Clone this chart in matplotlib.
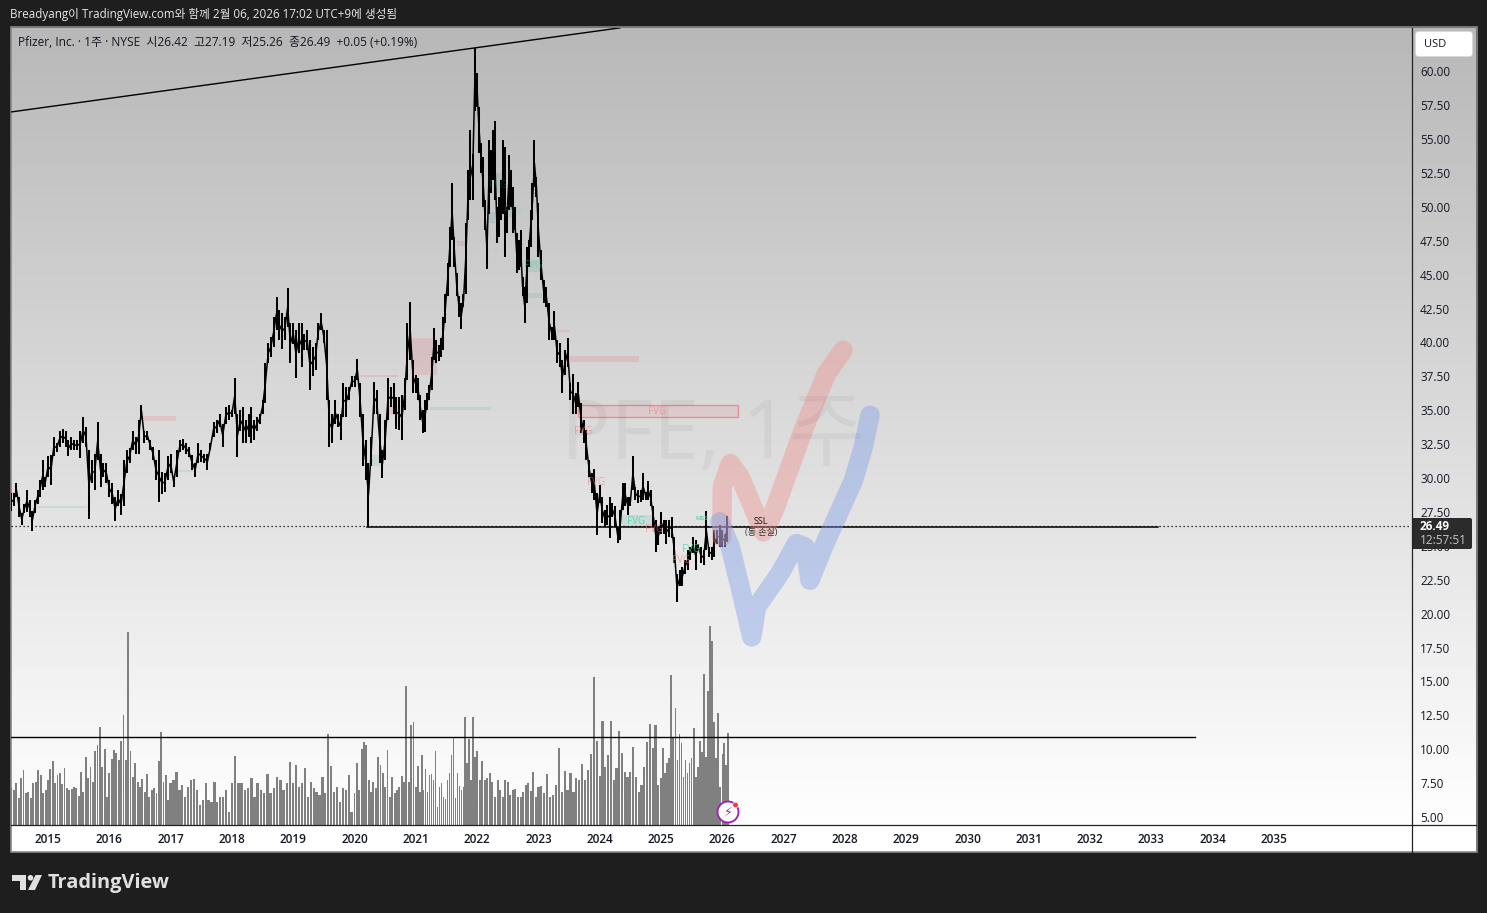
import numpy as np
import matplotlib
matplotlib.use('Agg')
import matplotlib.pyplot as plt
from matplotlib.patches import Rectangle, Circle, Polygon, FancyBboxPatch

plt.rcParams['font.family'] = ['Open Sans', 'Noto Sans CJK KR', 'DejaVu Sans']

W, H = 1487, 913

# 2주 단위 고가/저가, 연도별
hi_2014 = [28.9,28.9,29.6,28.6,27.4,28.1,29.1,28.4,27.6,28.4,29.1,29.85,31.3,30.1]
lo_2014 = [27.6,27.9,28.6,27.15,26.5,27.4,27.5,27.15,26.1,27.4,28.1,28.6,29.1,29.35]
hi_2015 = [31.6,31.7,33.05,32.55,33.5,33.65,33.5,32.8,33.05,32.8,32.8,33.5,34.5,33.8,32.05,31.3,31.8,34.15,31.8,31.1,31.1]
lo_2015 = [30.1,29.5,31.6,31.95,32.3,32.55,32.3,31.6,32.05,32.05,32.05,31.45,32.55,32.3,27.0,29.6,29.1,31.3,29.35,30.1,29.6]
hi_2016 = [29.85,29.6,28.6,29.1,28.85,31.3,32.05,32.2,33.5,33.05,34.3,35.4,33.5,33.5,32.8,32.3,31.3,32.05,30.45,30.35,31.6]
lo_2016 = [28.6,28.1,26.8,27.9,27.25,27.9,30.35,31.1,32.05,31.8,31.8,34.5,32.55,32.8,32.05,31.3,29.85,28.25,28.85,29.0,29.85]
hi_2017 = [31.8,30.1,32.05,32.8,32.9,32.55,32.3,31.7,31.1,32.55,32.05,31.8,31.8,32.55,34.15,34.3,34.75,34.0,35.25,35.4]
lo_2017 = [30.35,29.35,30.1,31.95,32.05,31.8,31.55,30.6,30.1,31.1,31.2,31.1,30.6,32.05,33.05,33.3,33.8,32.3,34.0,34.3]
hi_2018 = [35.0,37.35,34.75,35.0,35.25,34.3,34.75,35.25,34.3,34.5,34.75,35.75,38.45,39.95,40.4,41.9,43.35,42.4,42.15,41.9,44.0,41.4]
lo_2018 = [34.5,34.75,31.55,33.5,32.55,32.55,33.05,32.55,32.8,33.5,34.0,34.75,35.5,38.45,38.95,39.7,40.9,40.2,39.55,40.2,41.15,38.45]
hi_2019 = [41.4,40.9,41.4,41.4,40.65,40.9,40.2,39.7,39.95,41.4,42.15,40.9,40.9,35.75,34.75,35.75,34.75,34.75,37.0,36.75,36.75,37.5]
lo_2019 = [39.9,37.4,39.2,38.2,39.45,39.45,36.5,37.5,37.95,40.2,40.9,39.95,35.75,32.3,32.55,34.0,33.8,32.8,34.5,34.5,35.75,36.75]
hi_2020 = [37.5,38.8,37.0,34.75,32.8,31.1,33.05,37.1,36.5,34.75,32.05,34.3,37.35,36.75,37.0,36.0,36.0,36.1,37.35,41.4,43.0,38.7]
lo_2020 = [36.75,37.2,34.5,30.85,29.85,26.4,30.85,34.75,34.75,31.1,30.0,31.3,34.3,35.25,34.75,33.65,33.55,32.8,35.0,37.2,38.7,36.25]
hi_2021 = [37.6,37.35,36.1,35.0,35.75,36.25,36.85,38.95,41.05,40.2,39.8,40.3,41.9,43.6,45.85,48.55,51.75,47.8,45.1,43.4,42.9,43.6,48.8,52.7,55.65,53.9,61.7]
lo_2021 = [36.25,35.75,34.3,33.3,33.4,35.0,35.75,36.5,38.7,38.45,38.6,38.95,39.45,41.4,43.4,45.6,47.55,45.6,43.4,41.9,41.0,42.6,43.6,49.0,50.5,50.5,57.1]
hi_2022 = [59.85,57.4,54.7,53.7,50.5,48.3,54.9,54.2,55.65,56.3,50.0,50.75,52.0,54.9,54.4,50.0,53.8,52.7,51.5,50.0,48.05,47.55,48.3,44.85,44.1,47.05,47.55,49.75,51.75,54.9,52.2]
lo_2022 = [57.4,53.95,52.5,50.0,48.3,45.45,49.5,51.0,52.0,50.5,47.3,47.8,49.0,49.5,46.3,48.05,49.75,50.0,48.05,48.3,45.1,45.35,45.6,43.4,41.4,42.9,45.6,47.05,49.0,51.5,50.75]
hi_2023 = [50.25,46.8,44.6,44.1,42.9,41.15,42.3,40.2,39.95,38.7,39.45,40.3,37.0,37.7,36.25,37.1,35.5,34.3,33.55,31.3,30.35,30.7,28.9]
lo_2023 = [46.3,44.6,42.9,42.6,40.2,40.2,40.2,38.45,38.2,36.25,37.6,38.2,35.75,34.75,34.75,35.25,33.3,32.55,31.3,30.1,28.9,28.4,25.8]
hi_2024 = [29.5,28.6,27.65,28.0,28.6,28.15,27.9,26.4,27.65,29.6,29.65,28.6,28.6,31.6,29.35,29.1,29.1,30.35,29.0,29.75,29.1,27.9,26.9,26.4]
lo_2024 = [28.15,26.65,26.4,26.5,25.55,27.15,26.4,25.2,25.4,27.65,27.9,27.3,27.9,29.1,28.4,28.15,28.25,28.4,28.4,28.4,27.9,26.4,24.55,25.05]
hi_2025 = [27.5,26.9,26.9,26.9,27.15,25.65,22.95,23.2,23.45,23.95,24.7,24.9,25.65,25.4,25.15,24.9,24.7,27.6,24.9,24.9,26.15,26.15,26.5]
lo_2025 = [25.9,25.9,25.15,25.65,25.55,23.7,20.85,22.0,22.0,22.95,23.2,23.95,24.45,23.2,24.7,23.7,23.55,24.7,24.2,23.95,24.2,25.15,24.9]
hi_2026 = [26.15,25.9,27.19]
lo_2026 = [24.9,24.9,25.26]

# 거래량 (백만주, 대략)
vol_2014 = [154,147,175,112,196,231,133,140,112,175,182,231,210,133,147]
vol_2015 = [189,235,269,175,210,220,173,238,157,147,151,158,154,122,223,140,287,196,245,182,311,336,413,245,318,119]
vol_2016 = [217,277,315,301,273,354,462,273,812,311,203,259,182,161,192,140,214,119,147,154,133,269,392,179,210,105]
vol_2017 = [175,189,221,147,168,119,161,189,192,147,84,105,178,105,98,179,98,119,116,147,56]
vol_2018 = [175,290,175,175,147,154,196,119,175,147,133,214,133,154,203,189,147,175,265]
vol_2019 = [175,252,161,175,238,119,179,154,140,126,203,133,382,248,140,161,98,154,147,210,56]
vol_2020 = [133,259,147,318,347,336,189,140,179,154,287,252,217,161,315,119,203,133,147,161,206,182,584,179,420,434]
vol_2021 = [161,248,140,294,147,234,140,210,214,189,311,77,161,175,119,109,189,217,294,371,112,217,164,147,161,455,259,360,189,455,287]
vol_2022 = [312,189,269,189,196,217,182,119,189,147,119,189,182,126,147,151,119,119,140,168,175,144,221,119]
vol_2023 = [161,164,133,214,119,126,168,322,140,227,147,217,140,196,189,256,189,231,298,622,353]
vol_2024 = [206,437,245,294,436,189,238,395,304,224,203,224,329,203,140,168,245,350,424,322,420,168]
vol_2025 = [196,322,217,259,280,630,371,490,273,381,343,203,273,217,259,280,406,203,245,354,308,634,287,564,836,773,434,280,469,161]
vol_2026 = [298,343,252,385]

seg_years = [2014, 2015, 2016, 2017, 2018, 2019, 2020, 2021, 2022, 2023, 2024, 2025, 2026]
seg_start = [2014.40, 2015, 2016, 2017, 2018, 2019, 2020, 2021, 2022, 2023, 2024, 2025, 2026]
seg_end = [2015, 2016, 2017, 2018, 2019, 2020, 2021, 2022, 2023, 2024, 2025, 2026, 2026.12]
highs = [hi_2014, hi_2015, hi_2016, hi_2017, hi_2018, hi_2019, hi_2020, hi_2021, hi_2022, hi_2023, hi_2024, hi_2025, hi_2026]
lows = [lo_2014, lo_2015, lo_2016, lo_2017, lo_2018, lo_2019, lo_2020, lo_2021, lo_2022, lo_2023, lo_2024, lo_2025, lo_2026]
vols = [vol_2014, vol_2015, vol_2016, vol_2017, vol_2018, vol_2019, vol_2020, vol_2021, vol_2022, vol_2023, vol_2024, vol_2025, vol_2026]

price_ticks = [5 + 2.5 * i for i in range(23)]
year_ticks = list(range(2015, 2036))
last_price = 26.49
ssl_price = 26.42
vol_level = 370

# 붓 자국 (연도, 가격)
red_x = [2025.99, 2026.0, 2026.13, 2026.29, 2026.67, 2026.83, 2027.32, 2027.70, 2027.97]
red_p = [25.66, 29.35, 31.07, 30.08, 26.03, 27.4, 33.53, 37.7, 39.43]
blue_x = [2025.96, 2026.13, 2026.29, 2026.48, 2026.56, 2026.94, 2027.21, 2027.35, 2027.43, 2027.65, 2028.14, 2028.30, 2028.41]
blue_p = [26.77, 24.92, 21.97, 18.28, 20.5, 22.96, 25.17, 24.92, 22.46, 24.92, 29.84, 32.3, 34.63]

# FVG 박스 (x0, x1, p0, p1)
red_boxes = [(2023.48, 2024.64, 38.55, 39.0), (2020.93, 2021.34, 37.6, 40.32), (2020.09, 2020.71, 37.45, 37.6),
             (2020.56, 2020.74, 34.65, 35.3), (2023.3, 2023.52, 40.77, 40.9), (2016.55, 2017.09, 34.2, 34.57),
             (2014.4, 2014.48, 28.75, 29.0), (2016.96, 2017.04, 30.15, 30.37), (2018.33, 2018.41, 34.5, 34.57),
             (2019.14, 2019.24, 40.4, 40.55), (2021.67, 2021.84, 47.1, 47.48)]
green_boxes = [(2021.23, 2022.22, 35.0, 35.24), (2020.25, 2020.46, 30.9, 31.7), (2014.82, 2015.64, 27.82, 27.93),
               (2017.1, 2017.37, 30.45, 30.6), (2022.16, 2022.29, 48.8, 49.6), (2022.32, 2022.42, 51.0, 52.5),
               (2022.49, 2022.62, 49.25, 50.35), (2022.78, 2023.03, 45.2, 46.1), (2022.81, 2023.06, 43.3, 43.65),
               (2024.33, 2024.87, 26.4, 27.27)]
red_labels = [(2024.93, 34.94), (2023.73, 33.4), (2023.94, 29.7), (2024.89, 26.17), (2025.33, 23.95)]
green_labels = [(2024.59, 26.83, 0.75), (2025.49, 24.76, 0.75), (2022.91, 45.7, 0.45), (2022.34, 51.6, 0.22), (2022.59, 49.76, 0.22)]


def px_rect(x0, y0, x1, y1):
    return [x0 / W, 1 - y1 / H, (x1 - x0) / W, (y1 - y0) / H]


fig = plt.figure(figsize=(W / 100, H / 100), dpi=100, facecolor='#1e1e1e')

# 배경
bg = fig.add_axes([0, 0, 1, 1], zorder=0)
bg.axis('off')
grad = np.linspace(0, 1, 256).reshape(-1, 1)
bg.imshow(grad, cmap=matplotlib.colors.LinearSegmentedColormap.from_list('g', ['#b8b8b8', '#ffffff']),
          extent=[11, 1476, 826, 28], aspect='auto')
bg.set_xlim(0, W)
bg.set_ylim(H, 0)
bg.add_patch(Rectangle((11, 825), 1465, 27, fc='white', ec='none'))
bg.add_patch(Rectangle((10.5, 27.5), 1466, 825, fc='none', ec='#8a8a8a', lw=1.2))

bg.text(10, 14, 'Breadyang이 TradingView.com와 함께 2월 06, 2026 17:02 UTC+9에 생성됨',
        color='#e8e8e8', fontsize=8.4, va='center', ha='left')
bg.text(48, 883, 'TradingView', color='#e0e0e0', fontsize=14.4, va='center', ha='left', fontweight='bold')
bg.add_patch(Polygon([(12, 875), (26, 875), (26, 890), (19.5, 890), (19.5, 881), (12, 881)], fc='#e0e0e0', ec='none'))
bg.add_patch(Circle((30.5, 877.8), 2.8, fc='#e0e0e0', ec='none'))
bg.add_patch(Polygon([(35.5, 875), (42, 875), (35, 890), (28, 890)], fc='#e0e0e0', ec='none'))

# 메인
ax = fig.add_axes(px_rect(11, 28, 1411, 825), zorder=1, facecolor='none')
ax_vol = ax.twinx()
ax.set_xlim(2014.396, 2037.235)
ax.set_ylim(4.41, 63.19)
for s in ax.spines.values():
    s.set_visible(False)

ax.text(2025.85, 33.0, 'PFE, 1주', fontsize=59, color='black', alpha=0.045, ha='center', va='center',
        family=['Noto Sans', 'Noto Sans CJK KR'])

for x0, x1, p0, p1 in red_boxes:
    ax.add_patch(Rectangle((x0, p0), x1 - x0, p1 - p0, fc='#f23645', ec='none', alpha=0.13))
for x0, x1, p0, p1 in green_boxes:
    ax.add_patch(Rectangle((x0, p0), x1 - x0, p1 - p0, fc='#089981', ec='none', alpha=0.11))
ax.add_patch(Rectangle((2023.65, 34.52), 2.6, 0.86, fc=(0.95, 0.21, 0.27, 0.09), ec=(0.95, 0.21, 0.27, 0.42), lw=1))
for x, p in red_labels:
    ax.text(x, p, 'FVG', color='#f77c80', alpha=0.6, fontsize=7, ha='center', va='center')
for x, p, a in green_labels:
    ax.text(x, p, 'FVG', color='#42d6a4', alpha=a, fontsize=7, ha='center', va='center')
ax.text(2025.67, 26.98, 'MSS', color='#42d6a4', alpha=0.8, fontsize=4.5, ha='center', va='center', fontweight='bold')

all_x, all_mid = [], []
for i, y in enumerate(seg_years):
    xs = np.linspace(seg_start[i], seg_end[i], len(highs[i]), endpoint=False)
    ax.vlines(xs, lows[i], highs[i], color='black', lw=1.45)
    all_x.extend(xs)
    all_mid.extend((np.array(highs[i]) + np.array(lows[i])) / 2)
# 봉 사이를 이어서 빽빽하게 보이도록
ax.plot(all_x, all_mid, color='black', lw=1.1)

ax.plot([2014.4, 2024.33], [57.0, 63.2], color='black', lw=1)
ax.plot([2014.396, 2037.235], [last_price, last_price], color='black', lw=0.9, ls=(0, (1, 2.2)))
ax.plot([2020.2, 2033.1], [ssl_price, ssl_price], color='black', lw=1.1)

ax.plot(red_x, red_p, color='#ee8f8f', lw=14, alpha=0.42, solid_capstyle='round', solid_joinstyle='round')
ax.plot(blue_x, blue_p, color='#7f9de8', lw=14, alpha=0.42, solid_capstyle='round', solid_joinstyle='round')
ax.text(2026.63, 26.83, 'SSL', fontsize=6.5, ha='center', va='center', color='#111111')
ax.text(2026.63, 26.0, '(동 손실)', fontsize=6.5, ha='center', va='center', color='#333333')

ax.yaxis.tick_right()
ax.set_yticks(price_ticks)
ax.set_yticklabels(['%.2f' % p for p in price_ticks], fontsize=8.5, color='#131722')
ax.set_xticks(year_ticks)
ax.set_xticklabels([str(y) for y in year_ticks], fontsize=8.5, color='#131722', fontweight='semibold')
ax.tick_params(axis='y', length=0, pad=6.5)
ax.tick_params(axis='x', length=0, pad=6)

# 거래량
ax_vol.set_ylim(0, 797 * 4.2)
ax_vol.set_yticks([])
ax_vol.patch.set_visible(False)
for s in ax_vol.spines.values():
    s.set_visible(False)
for i, y in enumerate(seg_years):
    xs = np.linspace(seg_start[i], seg_end[i], len(vols[i]), endpoint=False)
    step = (seg_end[i] - seg_start[i]) / len(vols[i])
    ax_vol.bar(xs, vols[i], width=step * 0.78, color='#808080', lw=0)
ax_vol.plot([2014.396, 2033.71], [vol_level, vol_level], color='black', lw=1)

# 위에 덮는 것들
top = fig.add_axes([0, 0, 1, 1], zorder=5, facecolor='none')
top.set_xlim(0, W)
top.set_ylim(H, 0)
top.axis('off')
top.plot([1411.5, 1411.5], [28, 852], color='#222222', lw=0.9)
top.plot([11, 1476], [825.5, 825.5], color='#222222', lw=0.9)
top.text(18, 42, 'Pfizer, Inc. · 1주 · NYSE  시26.42  고27.19  저25.26  종26.49  +0.05 (+0.19%)',
         color='#131722', fontsize=8.6, va='center', ha='left')
top.add_patch(FancyBboxPatch((1417, 33), 54, 22, boxstyle='round,pad=1.5,rounding_size=3', fc='white', ec='#d8d8d8', lw=0.6))
top.text(1424, 44.5, 'USD', color='#131722', fontsize=8, va='center', ha='left')
top.add_patch(FancyBboxPatch((1413, 519), 58, 29, boxstyle='round,pad=1,rounding_size=2', fc='#2b2b2b', ec='none'))
top.text(1420, 527, '26.49', color='white', fontsize=8.5, va='center', ha='left', fontweight='bold')
top.text(1420, 541, '12:57:51', color='#c8c8c8', fontsize=8.5, va='center', ha='left')
top.add_patch(Circle((728, 812), 10.5, fc='white', ec='#9c27b0', lw=1.4))
top.text(728, 812.5, '⚡', color='#9c27b0', fontsize=9, ha='center', va='center', family='DejaVu Sans')
top.add_patch(Circle((735.5, 805), 2.8, fc='#f23645', ec='white', lw=0.5))

fig.savefig('out.png', dpi=100, facecolor=fig.get_facecolor())
